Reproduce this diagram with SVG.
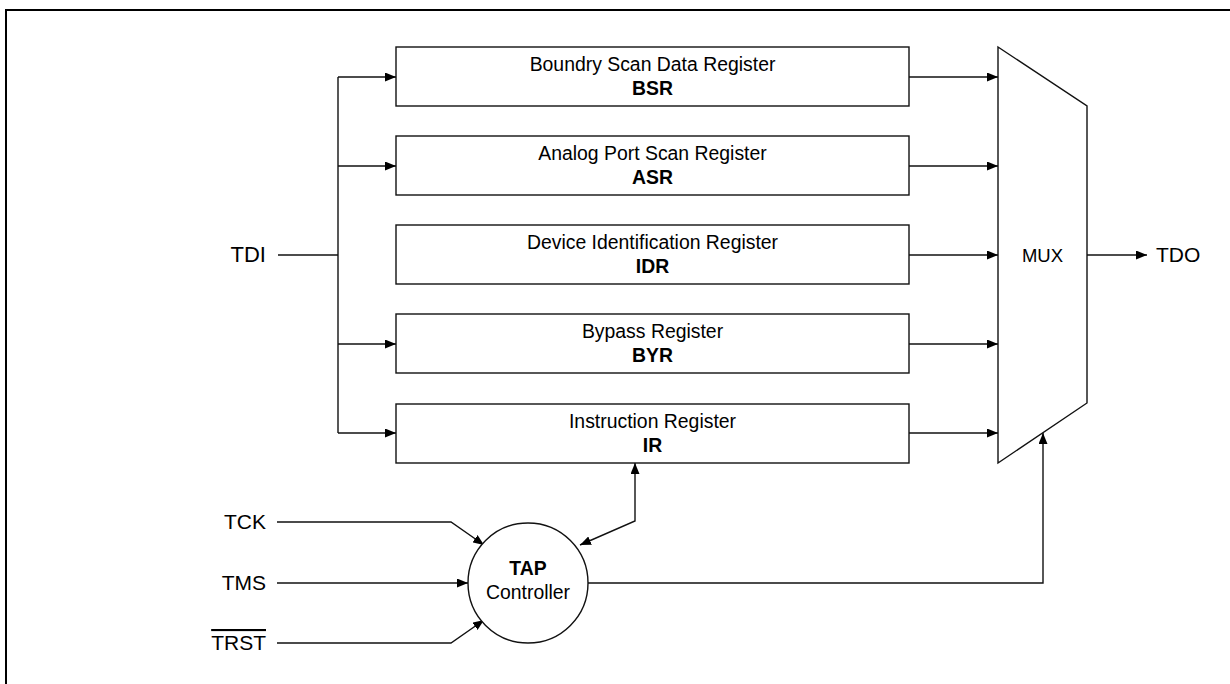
<svg xmlns="http://www.w3.org/2000/svg" width="1230" height="684" viewBox="0 0 1230 684">
  <defs>
    <marker id="arrow" viewBox="0 0 11 9" refX="11" refY="4.5" markerWidth="11" markerHeight="9" markerUnits="userSpaceOnUse" orient="auto-start-reverse">
      <path d="M0,0 L11,4.5 L0,9 Z" fill="#000"/>
    </marker>
    <style>
      .box { fill: #fff; stroke: #111; stroke-width: 1.4; }
      .wire { fill: none; stroke: #111; stroke-width: 1.4; }
      .arr { marker-end: url(#arrow); }
      .t { font-family: "Liberation Sans", Arial, sans-serif; font-size: 19.4px; fill: #000; text-anchor: middle; }
      .m { font-size: 18.5px; }
      .b { font-weight: bold; }
      .sig { font-family: "Liberation Sans", Arial, sans-serif; font-size: 21px; fill: #000; }
    </style>
  </defs>

  <rect x="6" y="10" width="1240" height="700" fill="#fff" stroke="#000" stroke-width="2"/>

  <g id="connectors">
    <!-- TDI input bus -->
    <line class="wire" x1="278" y1="255" x2="338" y2="255"/>
    <line class="wire" x1="338" y1="77" x2="338" y2="433"/>
    <line class="wire arr" x1="338" y1="77" x2="396" y2="77"/>
    <line class="wire arr" x1="338" y1="166" x2="396" y2="166"/>
    <line class="wire arr" x1="338" y1="344" x2="396" y2="344"/>
    <line class="wire arr" x1="338" y1="433" x2="396" y2="433"/>
    <!-- register outputs to MUX -->
    <line class="wire arr" x1="909" y1="77" x2="998" y2="77"/>
    <line class="wire arr" x1="909" y1="166" x2="998" y2="166"/>
    <line class="wire arr" x1="909" y1="255" x2="998" y2="255"/>
    <line class="wire arr" x1="909" y1="344" x2="998" y2="344"/>
    <line class="wire arr" x1="909" y1="433" x2="998" y2="433"/>
    <!-- MUX output -->
    <line class="wire arr" x1="1087" y1="255" x2="1147" y2="255"/>
    <!-- TAP controller inputs -->
    <polyline class="wire arr" points="277,522 451,522 484,545"/>
    <line class="wire arr" x1="277" y1="583" x2="468" y2="583"/>
    <polyline class="wire arr" points="277,643 451,643 484,620"/>
    <!-- TAP <-> IR -->
    <polyline class="wire arr" points="580,545 635,521 635,463" style="marker-start:url(#arrow)"/>
    <!-- TAP -> MUX select -->
    <polyline class="wire arr" points="588,583 1043,583 1043,433"/>
  </g>

  <g id="bsr">
    <rect class="box" x="396" y="47" width="513" height="59"/>
    <text class="t" x="652.5" y="71">Boundry Scan Data Register</text>
    <text class="t b" x="652.5" y="95">BSR</text>
  </g>
  <g id="asr">
    <rect class="box" x="396" y="136" width="513" height="59"/>
    <text class="t" x="652.5" y="160">Analog Port Scan Register</text>
    <text class="t b" x="652.5" y="184">ASR</text>
  </g>
  <g id="idr">
    <rect class="box" x="396" y="225" width="513" height="59"/>
    <text class="t" x="652.5" y="249">Device Identification Register</text>
    <text class="t b" x="652.5" y="273">IDR</text>
  </g>
  <g id="byr">
    <rect class="box" x="396" y="314" width="513" height="59"/>
    <text class="t" x="652.5" y="338">Bypass Register</text>
    <text class="t b" x="652.5" y="362">BYR</text>
  </g>
  <g id="ir">
    <rect class="box" x="396" y="404" width="513" height="59"/>
    <text class="t" x="652.5" y="428">Instruction Register</text>
    <text class="t b" x="652.5" y="452">IR</text>
  </g>

  <g id="mux">
    <polygon class="box" points="998,47 1087,106 1087,403 998,463"/>
    <text class="t m" x="1042.5" y="262">MUX</text>
  </g>

  <g id="tap">
    <circle class="box" cx="528" cy="583" r="60"/>
    <text class="t b" x="528" y="575">TAP</text>
    <text class="t" x="528" y="599">Controller</text>
  </g>

  <g id="signals">
    <text class="sig" x="266" y="262" text-anchor="end" style="font-size:22px">TDI</text>
    <text class="sig" x="266" y="529" text-anchor="end">TCK</text>
    <text class="sig" x="266" y="590" text-anchor="end">TMS</text>
    <text class="sig" x="266" y="650" text-anchor="end" text-decoration="overline">TRST</text>
    <text class="sig" x="1156" y="262">TDO</text>
  </g>
</svg>
